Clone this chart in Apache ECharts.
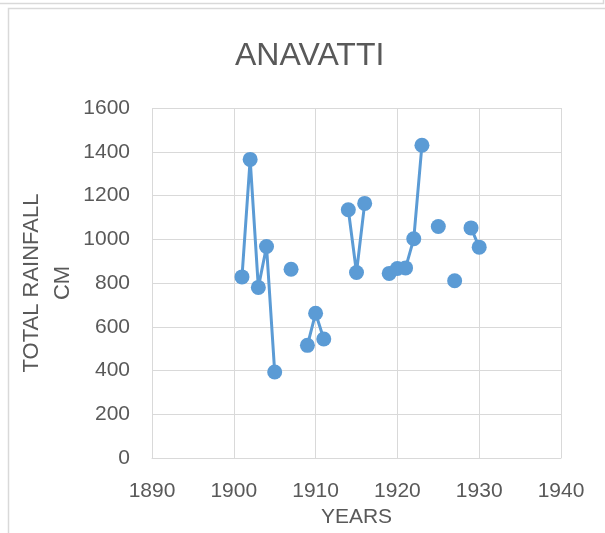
<!DOCTYPE html>
<html>
<head>
<meta charset="utf-8">
<script src="https://cdn.jsdelivr.net/npm/echarts@6/dist/echarts.min.js"></script>
<style>html,body{margin:0;padding:0;background:#fff}#c{width:605px;height:533px}</style>
</head>
<body>
<div id="c"></div>
<script>
var years = [1901,1902,1903,1904,1905,1906,1907,1908,1909,1910,1911,1912,1913,1914,1915,1916,1917,1918,1919,1920,1921,1922,1923,1924,1925,1926,1927,1928,1929,1930];
var rainfall = [828,1365,780,967,393,null,863,null,515,662,544,null,null,1135,848,1164,null,null,844,866,869,1002,1430,null,1058,null,810,null,1052,964];
var xTicks = [1890,1900,1910,1920,1930,1940];
var yTicks = [0,200,400,600,800,1000,1200,1400,1600];
var titleText = 'ANAVATTI';
var xName = 'YEARS';
var yName = 'TOTAL RAINFALL\nCM';

var seriesData = years.map(function(y,i){ return [y, rainfall[i] == null ? '-' : rainfall[i]]; });
var font = 'Liberation Sans, Arial, sans-serif';
var chart = echarts.init(document.getElementById('c'));
chart.setOption({
  animation: false,
  backgroundColor: '#ffffff',
  title: {
    text: titleText, left: 230, top: 35,
    textStyle: {fontFamily: font, fontSize: 32, fontWeight: 'normal', color: '#595959'}
  },
  grid: {left: 152, right: 44, top: 108, bottom: 73, containLabel: false},
  xAxis: {
    type: 'value', min: xTicks[0], max: xTicks[xTicks.length-1], interval: 10,
    name: xName, nameLocation: 'middle', nameGap: 49, nameMoveOverlap: false,
    nameTextStyle: {fontFamily: font, fontSize: 21, color: '#595959'},
    axisLine: {show: true, lineStyle: {color: '#d9d9d9', width: 1}},
    axisTick: {show: false},
    axisLabel: {fontFamily: font, fontSize: 21, color: '#595959', margin: 23, formatter: function(v){ return String(v); }},
    splitLine: {show: true, lineStyle: {color: '#d9d9d9', width: 1}}
  },
  yAxis: {
    type: 'value', min: yTicks[0], max: yTicks[yTicks.length-1], interval: 200,
    name: yName, nameLocation: 'middle', nameGap: 74, nameMoveOverlap: false,
    nameTextStyle: {fontFamily: font, fontSize: 22, color: '#595959', lineHeight: 31, align: 'center'},
    axisLine: {show: false}, axisTick: {show: false},
    axisLabel: {fontFamily: font, fontSize: 21, color: '#595959', margin: 22, formatter: function(v){ return String(v); }},
    splitLine: {show: true, lineStyle: {color: '#d9d9d9', width: 1}}
  },
  series: [{
    type: 'line', data: seriesData, connectNulls: false,
    symbol: 'circle', symbolSize: 15,
    itemStyle: {color: '#5b9bd5'},
    lineStyle: {color: '#5b9bd5', width: 3}
  }],
  graphic: [
    {type: 'rect', shape: {x: 8.5, y: 8.5, width: 640, height: 560}, style: {fill: null, stroke: '#d9d9d9', lineWidth: 1.5}, silent: true},
    {type: 'polyline', shape: {points: [[0, 3.5], [603.5, 3.5], [603.5, 0]]}, style: {fill: null, stroke: '#d9d9d9', lineWidth: 1.5}, silent: true}
  ]
});
</script>
</body>
</html>
